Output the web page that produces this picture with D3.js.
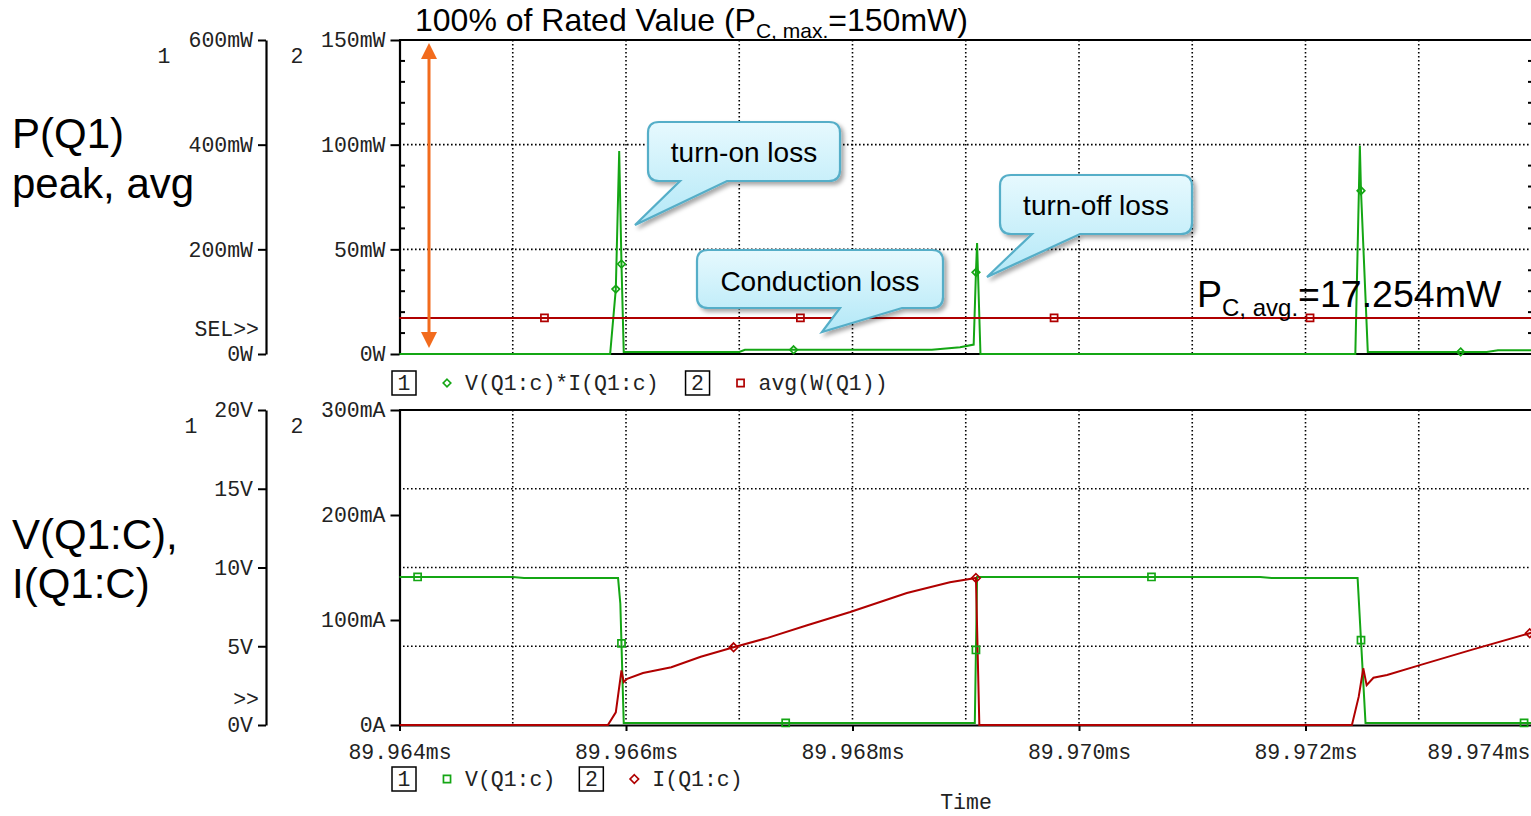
<!DOCTYPE html>
<html>
<head>
<meta charset="utf-8">
<script src="https://cdn.jsdelivr.net/npm/d3@7"></script>
<style>
  body { margin: 0; background: #fff; overflow: hidden; }
  .mono { font-family: "Liberation Mono", "Courier New", monospace; font-size: 21.5px; fill: #222; }
  .sans { font-family: "Liberation Sans", Arial, sans-serif; fill: #000; }
</style>
</head>
<body>
<svg id="chart" width="1531" height="816"></svg>
<script>
// time axis (ms)
const timeDomain = [89.964, 89.974];
const timeTicks = [89.964, 89.966, 89.968, 89.970, 89.972, 89.974];
const timeTickLabels = ["89.964ms", "89.966ms", "89.968ms", "89.970ms", "89.972ms", "89.974ms"];

// top plot: power axes
const powerTicks1 = [0, 200, 400, 600];
const powerTickLabels1 = ["0W", "200mW", "400mW", "600mW"];
const powerTicks2 = [0, 50, 100, 150];
const powerTickLabels2 = ["0W", "50mW", "100mW", "150mW"];

// V(Q1:c)*I(Q1:c), mW
const powerTime  = [89.96400, 89.96586, 89.96591, 89.96594, 89.96596, 89.96598, 89.96700, 89.96705, 89.96870, 89.96895, 89.96907, 89.96909, 89.96910, 89.96913, 89.97244, 89.97248, 89.97249, 89.97255, 89.97360, 89.97370, 89.97400];
const powerValue = [0,        0,        31,       97,       43,       1,        1,        2,        2,        3.2,      4.5,      39,       53,       0,        0,        99.5,     78,       1,        1,        1.8,      1.8];
const powerMarkerTimes = [89.96591, 89.96596, 89.96748, 89.96909, 89.97249, 89.97337];

// avg(W(Q1)), mW
const avgTime  = [89.964, 89.974];
const avgValue = [17.254, 17.254];
const avgMarkerTimes = [89.96528, 89.96754, 89.96978, 89.97204];

// bottom plot axes
const voltTicks = [0, 5, 10, 15, 20];
const voltTickLabels = ["0V", "5V", "10V", "15V", "20V"];
const currTicks = [0, 100, 200, 300];
const currTickLabels = ["0A", "100mA", "200mA", "300mA"];

// V(Q1:c), V
const voltTime  = [89.96400, 89.96500, 89.96510, 89.96593, 89.96595, 89.96598, 89.96908, 89.96910, 89.97160, 89.97170, 89.97246, 89.97253, 89.97400];
const voltValue = [9.4,      9.4,      9.33,     9.33,     7.7,      0.13,     0.13,     9.4,      9.4,      9.33,     9.33,     0.13,     0.13];
const voltMarkerTimes = [89.96416, 89.96596, 89.96741, 89.96909, 89.97064, 89.97249, 89.97393];

// I(Q1:c), mA
const currTime  = [89.96400, 89.96584, 89.96591, 89.96596, 89.96598, 89.96601, 89.96615, 89.96640, 89.96666, 89.96695, 89.96725, 89.96760, 89.96798, 89.96848, 89.96886, 89.96909, 89.96912, 89.97241, 89.97247, 89.97251, 89.97254, 89.97260, 89.97272, 89.97301, 89.97348, 89.97400];
const currValue = [0,        0,        12,       52,       41,       44,       49.5,     55,       65,       74,       83,       95,       107.6,    125.7,    136,      140,      0,        0,        27,       54,       38,       45,       47.6,     57,       72,       88];
const currMarkerTimes = [89.96695, 89.96909, 89.97398];

const green = "#14a614";
const red = "#b00000";
const orange = "#f26b1d";

const svg = d3.select("#chart");

const x = d3.scaleLinear().domain(timeDomain).range([399.5, 1532]);
const yP1 = d3.scaleLinear().domain([0, 600]).range([354, 40]);
const yP2 = d3.scaleLinear().domain([0, 150]).range([354, 40]);
const yV = d3.scaleLinear().domain([0, 20]).range([725, 410]);
const yI = d3.scaleLinear().domain([0, 300]).range([725, 410]);

function interp(ts, vs, t) {
  const i = Math.max(1, d3.bisectLeft(ts, t));
  const t0 = ts[i - 1], t1 = ts[i];
  const k = (t - t0) / (t1 - t0);
  return vs[i - 1] + (vs[i] - vs[i - 1]) * k;
}

// defs: callout gradient + shadow
const defs = svg.append("defs");
const grad = defs.append("linearGradient").attr("id", "callGrad").attr("x1", 0).attr("y1", 0).attr("x2", 0).attr("y2", 1);
grad.append("stop").attr("offset", "0%").attr("stop-color", "#e6f9fe");
grad.append("stop").attr("offset", "100%").attr("stop-color", "#b3e8f7");
const sh = defs.append("filter").attr("id", "shadow").attr("x", "-10%").attr("y", "-10%").attr("width", "130%").attr("height", "140%");
sh.append("feDropShadow").attr("dx", 3).attr("dy", 3).attr("stdDeviation", 2).attr("flood-color", "#000").attr("flood-opacity", 0.35);

// gridlines
const grid = svg.append("g").attr("stroke", "#000").attr("stroke-width", 1.6).attr("stroke-dasharray", "1.6,2.4");
const vGrid = d3.range(1, 10).map(i => timeDomain[0] + i * 0.001);
[[40, 354], [410, 725]].forEach(([y0, y1]) => {
  grid.selectAll(null).data(vGrid).join("line")
    .attr("x1", d => x(d)).attr("x2", d => x(d)).attr("y1", y0).attr("y2", y1);
});
grid.selectAll(null).data([50, 100]).join("line")
  .attr("x1", 399).attr("x2", 1531).attr("y1", d => yP2(d)).attr("y2", d => yP2(d));
grid.selectAll(null).data([5, 10, 15]).join("line")
  .attr("x1", 399).attr("x2", 1531).attr("y1", d => yV(d)).attr("y2", d => yV(d));

// frame lines
const frame = svg.append("g").attr("stroke", "#000").attr("stroke-width", 2);
frame.append("line").attr("x1", 399).attr("x2", 1531).attr("y1", 40).attr("y2", 40);
frame.append("line").attr("x1", 399).attr("x2", 1531).attr("y1", 354).attr("y2", 354);
frame.append("line").attr("x1", 399).attr("x2", 1531).attr("y1", 410).attr("y2", 410);

// minor ticks on axis 2 of top plot and right border
const minor = d3.range(10, 150, 10).filter(d => d % 50 !== 0);
frame.selectAll(null).data(minor).join("line")
  .attr("x1", 399).attr("x2", 405).attr("y1", d => yP2(d)).attr("y2", d => yP2(d));
frame.selectAll(null).data(minor).join("line")
  .attr("x1", 1528).attr("x2", 1531).attr("y1", d => yP2(d)).attr("y2", d => yP2(d));

function drawAxis(scale, ticks, labels, xPos, size) {
  const g = svg.append("g").attr("transform", `translate(${xPos},0)`)
    .call(d3.axisLeft(scale).tickValues(ticks).tickFormat((d, i) => labels[i])
      .tickSize(size).tickSizeOuter(0).tickPadding(5));
  g.select(".domain").attr("stroke", "#000").attr("stroke-width", 2.2);
  g.selectAll(".tick line").attr("stroke", "#000").attr("stroke-width", 2);
  g.selectAll(".tick text").attr("class", "mono").attr("font-family", null).attr("font-size", null);
  return g;
}
drawAxis(yP1, powerTicks1, powerTickLabels1, 266, 8);
drawAxis(yP2, powerTicks2, powerTickLabels2, 399.5, 9);
drawAxis(yV, voltTicks, voltTickLabels, 266, 8);
drawAxis(yI, currTicks, currTickLabels, 399.5, 9);

// time axis
const xg = svg.append("g").attr("transform", "translate(0,725)")
  .call(d3.axisBottom(x).tickValues(timeTicks).tickFormat((d, i) => timeTickLabels[i])
    .tickSize(6).tickSizeOuter(0));
xg.select(".domain").attr("stroke", "#000").attr("stroke-width", 2);
xg.selectAll(".tick line").attr("stroke", "#000").attr("stroke-width", 2);
xg.selectAll(".tick text").attr("class", "mono").attr("font-family", null).attr("font-size", null)
  .attr("y", 27).attr("dy", "0.32em");
// last label is pulled inside the window
xg.selectAll(".tick text").filter((d, i) => i === timeTicks.length - 1)
  .attr("text-anchor", "end").attr("x", 1530 - x(timeTicks[timeTicks.length - 1]));

// traces
const line = (ts, vs, ys) => d3.line().x((d, i) => x(ts[i])).y((d, i) => ys(vs[i]))(vs);

svg.append("path").attr("d", line(powerTime, powerValue, yP2))
  .attr("fill", "none").attr("stroke", green).attr("stroke-width", 2);
svg.append("path").attr("d", line(avgTime, avgValue, yP2))
  .attr("fill", "none").attr("stroke", red).attr("stroke-width", 2);
svg.append("path").attr("d", line(voltTime, voltValue, yV))
  .attr("fill", "none").attr("stroke", green).attr("stroke-width", 2);
svg.append("path").attr("d", line(currTime, currValue, yI))
  .attr("fill", "none").attr("stroke", red).attr("stroke-width", 2);

// markers
const diamond = d3.symbol().type(d3.symbolDiamond2).size(36);
const bigDiamond = d3.symbol().type(d3.symbolDiamond2).size(46);
const square = d3.symbol().type(d3.symbolSquare2).size(64);
function markers(times, ts, vs, ys, sym, color) {
  svg.append("g").selectAll("path").data(times).join("path")
    .attr("d", sym)
    .attr("transform", t => `translate(${x(t)},${ys(interp(ts, vs, t))})`)
    .attr("fill", "none").attr("stroke", color).attr("stroke-width", 1.7);
}
markers(powerMarkerTimes, powerTime, powerValue, yP2, diamond, green);
markers(avgMarkerTimes, avgTime, avgValue, yP2, square, red);
markers(voltMarkerTimes, voltTime, voltValue, yV, square, green);
markers(currMarkerTimes, currTime, currValue, yI, bigDiamond, red);

// axis numbers & selectors
const mono = (t, xx, yy, anchor) => svg.append("text").attr("class", "mono")
  .attr("x", xx).attr("y", yy).attr("dy", "0.32em").attr("text-anchor", anchor || "middle").text(t);
mono("1", 164, 56); mono("2", 297, 56);
mono("1", 191, 426); mono("2", 297, 426);
mono("SEL>>", 259, 329, "end");
mono(">>", 259, 699, "end");
mono("Time", 966, 802);

// legends
function legend(yc, entries) {
  let xx = 392;
  entries.forEach(e => {
    svg.append("rect").attr("x", xx).attr("y", yc - 12).attr("width", 24).attr("height", 24)
      .attr("fill", "none").attr("stroke", "#000").attr("stroke-width", 1.5);
    mono(e.num, xx + 12, yc);
    svg.append("path").attr("d", e.sym).attr("transform", `translate(${xx + 55},${yc})`)
      .attr("fill", "none").attr("stroke", e.color).attr("stroke-width", 1.7);
    const t = mono(e.label, xx + 73, yc, "start");
    xx = xx + 73 + t.node().getComputedTextLength() + e.gap;
  });
}
legend(383, [
  { num: "1", label: "V(Q1:c)*I(Q1:c)", color: green, sym: diamond, gap: 27 },
  { num: "2", label: "avg(W(Q1))", color: red, sym: square, gap: 20 }
]);
legend(779, [
  { num: "1", label: "V(Q1:c)", color: green, sym: square, gap: 24 },
  { num: "2", label: "I(Q1:c)", color: red, sym: bigDiamond, gap: 20 }
]);

// big side labels
const big = (t, yy) => svg.append("text").attr("class", "sans").attr("x", 12).attr("y", yy)
  .attr("font-size", 42).text(t);
big("P(Q1)", 148);
big("peak, avg", 198);
big("V(Q1:C),", 549);
big("I(Q1:C)", 598);

// title
const title = svg.append("text").attr("class", "sans").attr("x", 415).attr("y", 31).attr("font-size", 32);
title.append("tspan").text("100% of Rated Value (P");
title.append("tspan").attr("font-size", 21).attr("dy", 7).text("C, max.");
title.append("tspan").attr("dy", -7).text("=150mW)");

// orange double arrow (0 .. 150mW rating)
const ax = 429;
svg.append("line").attr("x1", ax).attr("x2", ax).attr("y1", yP2(150) + 14).attr("y2", yP2(0) - 18)
  .attr("stroke", orange).attr("stroke-width", 3);
svg.append("path").attr("d", `M${ax},${yP2(150) + 3}L${ax - 8},${yP2(150) + 19}L${ax + 8},${yP2(150) + 19}Z`).attr("fill", orange);
svg.append("path").attr("d", `M${ax},${yP2(0) - 6}L${ax - 8},${yP2(0) - 22}L${ax + 8},${yP2(0) - 22}Z`).attr("fill", orange);

// callouts
function callout(x0, y0, x1, y1, bl, br, tip, text, ty) {
  const r = 11;
  const p = d3.path();
  p.moveTo(x0 + r, y0);
  p.lineTo(x1 - r, y0); p.quadraticCurveTo(x1, y0, x1, y0 + r);
  p.lineTo(x1, y1 - r); p.quadraticCurveTo(x1, y1, x1 - r, y1);
  p.lineTo(br, y1); p.lineTo(tip[0], tip[1]); p.lineTo(bl, y1);
  p.lineTo(x0 + r, y1); p.quadraticCurveTo(x0, y1, x0, y1 - r);
  p.lineTo(x0, y0 + r); p.quadraticCurveTo(x0, y0, x0 + r, y0);
  p.closePath();
  svg.append("path").attr("d", p.toString()).attr("fill", "url(#callGrad)")
    .attr("stroke", "#55aec8").attr("stroke-width", 2.2).attr("filter", "url(#shadow)");
  svg.append("text").attr("class", "sans").attr("x", (x0 + x1) / 2).attr("y", ty)
    .attr("text-anchor", "middle").attr("font-size", 28).text(text);
}
callout(648, 122, 840, 181, 680, 727, [635, 225], "turn-on loss", 162);
callout(697, 250, 943, 308, 840, 902, [822, 332], "Conduction loss", 291);
callout(1000, 175, 1192, 234, 1032, 1080, [987, 277], "turn-off loss", 215);

// average annotation
const avgText = svg.append("text").attr("class", "sans").attr("x", 1197).attr("y", 307).attr("font-size", 37.5);
avgText.append("tspan").text("P");
avgText.append("tspan").attr("font-size", 24).attr("dy", 9).text("C, avg.");
avgText.append("tspan").attr("dy", -9).text("=17.254mW");
</script>
</body>
</html>
